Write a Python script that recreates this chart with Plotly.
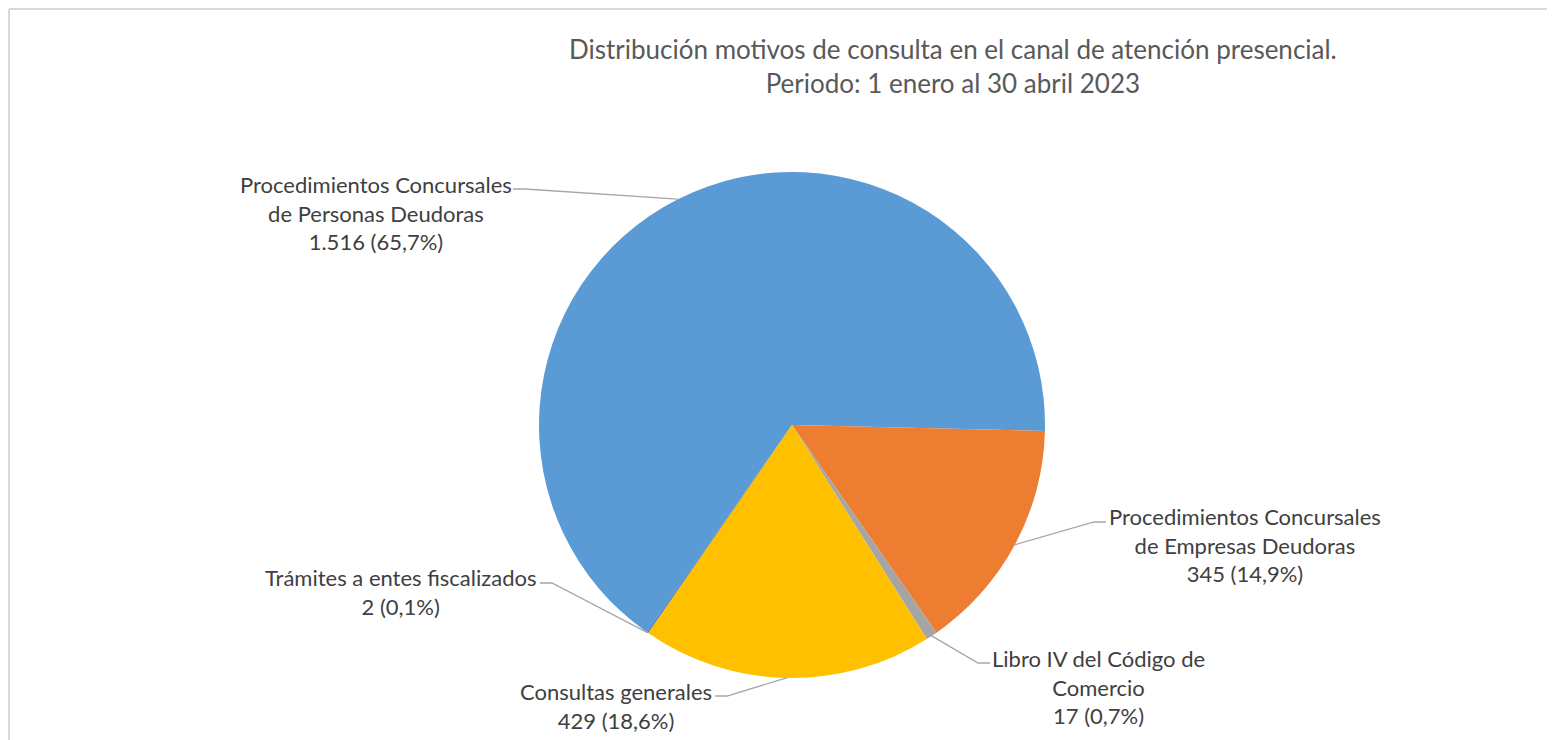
import math
import plotly.graph_objects as go

# data
categorias = [
    "Procedimientos Concursales<br>de Personas Deudoras",
    "Procedimientos Concursales<br>de Empresas Deudoras",
    "Libro IV del Código de<br>Comercio",
    "Consultas generales",
    "Trámites a entes fiscalizados",
]
valores = [1516, 345, 17, 429, 2]
etiquetas_valor = ["1.516 (65,7%)", "345 (14,9%)", "17 (0,7%)", "429 (18,6%)", "2 (0,1%)"]
colores = ["#5B9BD5", "#ED7D31", "#A5A5A5", "#FFC000", "#4472C4"]

W, H = 1555, 740
OFF = 8                        # page body margin of the html
CX, CY, R = 792, 425, 253      # pie centre / radius in screen px
ROTACION = 215                 # start angle of first slice (clockwise from 12h)

def px(x):
    return (x - OFF) / W

def py(y):
    return 1 - (y - OFF) / H

fig = go.Figure()
fig.add_trace(go.Pie(
    labels=[c.replace("<br>", " ") for c in categorias],
    values=valores,
    marker=dict(colors=colores, line=dict(width=0)),
    sort=False,
    direction="clockwise",
    rotation=ROTACION,
    textinfo="none",
    hoverinfo="label+value+percent",
    showlegend=False,
    domain=dict(x=[px(CX - R), px(CX + R)], y=[py(CY + R), py(CY - R)]),
))

# label placement (text centre, stub end next to text) in px
layout_etq = [
    dict(tx=376, ty=213, sx=(513, 189), lado=1),
    dict(tx=1245, ty=545, sx=(1106, 522), lado=-1),
    dict(tx=1098, ty=687, sx=(990, 663), lado=-1),
    dict(tx=616, ty=706, sx=(715, 696), lado=1),
    dict(tx=400, ty=592, sx=(540, 583), lado=1),
]

total = sum(valores)
acum = 0
shapes = []
anots = []
for cat, v, ev, lay in zip(categorias, valores, etiquetas_valor, layout_etq):
    ang = math.radians(ROTACION + 360 * (acum + v / 2) / total)
    acum += v
    ex = CX + R * math.sin(ang)
    ey = CY - R * math.cos(ang)
    x0, y0 = lay["sx"]
    x1 = x0 + 12 * lay["lado"]
    shapes.append(dict(
        type="path", xref="paper", yref="paper",
        path=f"M {px(x0)},{py(y0)} L {px(x1)},{py(y0)} L {px(ex)},{py(ey)}",
        line=dict(color="#A6A6A6", width=1.3),
    ))
    anots.append(dict(
        x=px(lay["tx"]), y=py(lay["ty"]), xref="paper", yref="paper",
        text=f"{cat}<br>{ev}", showarrow=False, xanchor="center", yanchor="middle",
        align="center", font=dict(family="Lato", size=22, color="#404040"),
    ))

# chart frame (top and left edges only, as in the cropped original)
shapes.append(dict(type="line", xref="paper", yref="paper", x0=px(9), x1=1, y0=py(9), y1=py(9),
                   line=dict(color="#D9D9D9", width=2)))
shapes.append(dict(type="line", xref="paper", yref="paper", x0=px(9), x1=px(9), y0=py(9), y1=0,
                   line=dict(color="#D9D9D9", width=2)))

anots.append(dict(
    x=px(953), y=py(66), xref="paper", yref="paper", showarrow=False,
    xanchor="center", yanchor="middle", align="center",
    text="Distribución motivos de consulta en el canal de atención presencial.<br>Periodo: 1 enero al 30 abril 2023",
    font=dict(family="Lato", size=26, color="#595959"),
))

fig.update_layout(
    width=W, height=H,
    margin=dict(l=0, r=0, t=0, b=0),
    paper_bgcolor="white",
    plot_bgcolor="white",
    shapes=shapes,
    annotations=anots,
)

fig.write_html("out.html")
